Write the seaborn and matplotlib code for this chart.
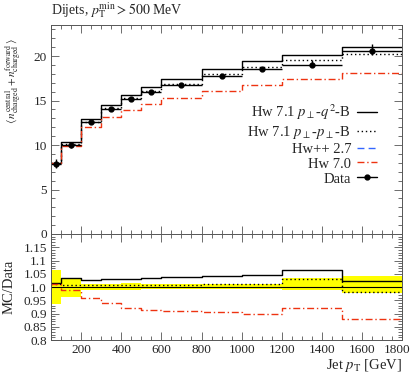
import numpy as np
import pandas as pd
import matplotlib
matplotlib.use("Agg")
import matplotlib.pyplot as plt
import matplotlib.transforms as mtransforms
from matplotlib.lines import Line2D
import seaborn as sns

# bin edges in jet pT [GeV]
edges = [50, 100, 200, 300, 400, 500, 600, 800, 1000, 1200, 1500, 1800]

# data with (asymmetric) uncertainties
data = [7.9, 10.05, 12.55, 14.05, 15.15, 15.95, 16.75, 17.8, 18.6, 18.95, 20.55]
data_up = [0.5, 0.33, 0.15, 0.17, 0.24, 0.19, 0.2, 0.21, 0.22, 0.66, 0.82]
data_dn = [0.51, 0.37, 0.13, 0.17, 0.18, 0.13, 0.13, 0.14, 0.15, 0.19, 0.45]

# MC predictions
hw71_q2 = [8.03, 10.38, 12.90, 14.49, 15.59, 16.49, 17.39, 18.57, 19.44, 20.16, 21.04]
hw71_pt = [7.99, 10.12, 12.63, 14.13, 15.24, 16.06, 16.88, 17.98, 18.80, 19.52, 20.20]
hw70 = [7.99, 9.92, 12.04, 13.21, 13.97, 14.59, 15.24, 16.11, 16.74, 17.47, 18.08]

labels = [r"Hw 7.1 $p_\perp$-$q^2$-B", r"Hw 7.1 $p_\perp$-$p_\perp$-B",
          "Hw++ 2.7", "Hw 7.0", "Data"]

ratio_ticks = [0.8, 0.85, 0.9, 0.95, 1.0, 1.05, 1.1, 1.15]
ratio_ticklabels = ["0.8", "0.85", "0.9", "0.95", "1.0", "1.05", "1.1", "1.15"]

sns.set_style("ticks")
plt.rcParams["font.family"] = ["Liberation Serif", "DejaVu Serif"]
plt.rcParams["mathtext.fontset"] = "stix"
plt.rcParams["font.size"] = 10.5

edges = np.array(edges, dtype=float)
data = np.array(data)
centers = 0.5 * (edges[1:] + edges[:-1])
halfw = 0.5 * (edges[1:] - edges[:-1])

fig = plt.figure(figsize=(4.15, 3.75), dpi=100)
ax = fig.add_axes([0.123, 0.376, 0.846, 0.5573])
rax = fig.add_axes([0.123, 0.0933, 0.846, 0.2827], sharex=ax)


def steps(a, vals, **kw):
    df = pd.DataFrame({"x": edges, "y": np.append(vals, vals[-1])})
    sns.lineplot(data=df, x="x", y="y", ax=a, drawstyle="steps-post",
                 sort=False, legend=False, **kw)


red = "#EE3311"
blue = "#3366FF"
ls_dot = (0, (1, 2))
ls_dash = (0, (5, 3))
ls_dashdot = (0, (5, 2, 1, 2))

# main panel
steps(ax, np.array(hw71_q2), color="black", lw=1.0)
steps(ax, np.array(hw71_pt), color="black", lw=1.0, ls=ls_dot)
steps(ax, np.array(hw70), color=red, lw=1.0, ls=ls_dashdot)
ax.errorbar(centers, data, xerr=halfw, yerr=[data_dn, data_up], fmt="o",
            color="black", ms=3.5, lw=1.0, capsize=0)

ax.set_xlim(50, 1800)
ax.set_ylim(0, 23.5)
ax.set_yticks([0, 5, 10, 15, 20])
ax.set_yticks(np.arange(0, 24, 1), minor=True)
ax.set_xticks(np.arange(200, 1801, 200))
ax.set_xticks(np.arange(50, 1801, 50), minor=True)
ax.tick_params(labelbottom=False)
ax.set_xlabel("")
ax.set_ylabel(r"$\langle\, n_\mathrm{charged}^\mathrm{central} + n_\mathrm{charged}^\mathrm{forward}\,\rangle$",
              fontsize=8)
ax.yaxis.set_label_coords(-0.08, 0.73)

handles = [
    Line2D([], [], color="black", lw=1.0),
    Line2D([], [], color="black", lw=1.0, ls=ls_dot),
    Line2D([], [], color=blue, lw=1.0, ls=ls_dash),
    Line2D([], [], color=red, lw=1.0, ls=ls_dashdot),
    Line2D([], [], color="black", lw=1.0, marker="o", ms=3.5),
]
ax.legend(handles, labels, loc="upper right", bbox_to_anchor=(0.95, 0.665),
          frameon=False, markerfirst=False, handlelength=1.4,
          labelspacing=0.12, handletextpad=0.4, borderpad=0, fontsize=10.5)

ax.text(0.0, 1.025, r"Dijets, $p_\mathrm{T}^\mathrm{min} > 500$ MeV",
        transform=ax.transAxes, ha="left", va="bottom", fontsize=10)

# ratio panel
band_lo = (data - np.array(data_dn)) / data
band_hi = (data + np.array(data_up)) / data
rax.fill_between(edges, np.append(band_lo, band_lo[-1]),
                 np.append(band_hi, band_hi[-1]), step="post",
                 color="#FFFF00", lw=0)
steps(rax, data / data, color="black", lw=0.8)
steps(rax, np.array(hw71_q2) / data, color="black", lw=1.0)
steps(rax, np.array(hw71_pt) / data, color="black", lw=1.0, ls=ls_dot)
steps(rax, np.array(hw70) / data, color=red, lw=1.0, ls=ls_dashdot)

rax.set_ylim(0.8, 1.2)
rax.set_yticks(ratio_ticks)
rax.set_yticklabels(ratio_ticklabels)
rax.set_yticks(np.arange(0.8, 1.2, 0.01), minor=True)
rax.set_ylabel("MC/Data", fontsize=10.5)
rax.yaxis.set_label_coords(-0.1, 0.5)
rax.set_xlabel(r"Jet $p_\mathrm{T}$ [GeV]", ha="right", fontsize=10.5)
rax.xaxis.set_label_coords(1.0, -0.16)

for a in (ax, rax):
    a.tick_params(which="both", direction="in", top=True, right=True,
                  color="#555555", width=0.6, pad=3, labelsize=9.5)
    a.tick_params(which="major", length=6)
    a.tick_params(which="minor", length=3)
    for s in a.spines.values():
        s.set_visible(True)
        s.set_color("#555555")
        s.set_linewidth(0.7)

# nudge the last x tick label so it stays inside the figure
fig.canvas.draw()
last = rax.get_xticklabels()[-1]
last.set_transform(last.get_transform() +
                   mtransforms.ScaledTranslation(-5 / 100, 0, fig.dpi_scale_trans))

fig.savefig("out.png", dpi=100)
